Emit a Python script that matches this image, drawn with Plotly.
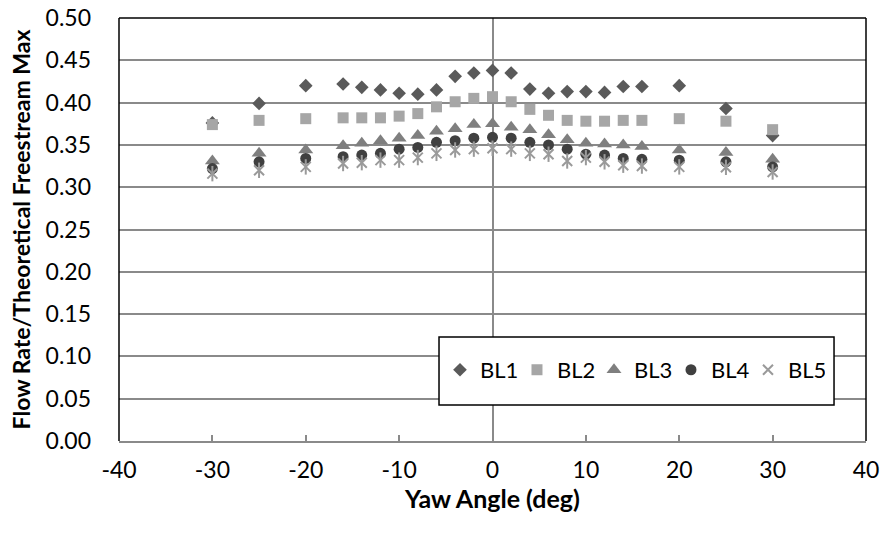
import plotly.graph_objects as go

yaw = [-30, -25, -20, -16, -14, -12, -10, -8, -6, -4, -2, 0, 2, 4, 6, 8, 10, 12, 14, 16, 20, 25, 30]

bl1 = [0.376, 0.399, 0.420, 0.422, 0.418, 0.415, 0.411, 0.410, 0.415, 0.431, 0.435, 0.438,
       0.435, 0.416, 0.411, 0.413, 0.413, 0.412, 0.419, 0.419, 0.420, 0.393, 0.361]
bl2 = [0.374, 0.379, 0.381, 0.382, 0.382, 0.382, 0.384, 0.387, 0.395, 0.401, 0.405, 0.407,
       0.401, 0.392, 0.385, 0.379, 0.378, 0.378, 0.379, 0.379, 0.381, 0.378, 0.368]
bl3 = [0.331, 0.340, 0.344, 0.349, 0.352, 0.355, 0.358, 0.361, 0.366, 0.369, 0.374, 0.375,
       0.371, 0.368, 0.362, 0.356, 0.352, 0.351, 0.350, 0.348, 0.344, 0.341, 0.333]
bl4 = [0.322, 0.330, 0.334, 0.336, 0.338, 0.340, 0.345, 0.347, 0.353, 0.355, 0.358, 0.359,
       0.358, 0.353, 0.350, 0.345, 0.339, 0.338, 0.334, 0.333, 0.332, 0.330, 0.324]
bl5 = [0.316, 0.320, 0.324, 0.328, 0.329, 0.332, 0.332, 0.335, 0.340, 0.344, 0.345, 0.346,
       0.345, 0.340, 0.339, 0.331, 0.335, 0.330, 0.326, 0.325, 0.324, 0.3235, 0.318]

x_ticks = [-40, -30, -20, -10, 0, 10, 20, 30, 40]
y_ticks = [0.00, 0.05, 0.10, 0.15, 0.20, 0.25, 0.30, 0.35, 0.40, 0.45, 0.50]

FONT = "Lato"
GRID = "#8a8a8a"

fig = go.Figure()
fig.add_trace(go.Scatter(x=yaw, y=bl1, mode="markers", name="BL1",
                         marker=dict(symbol="diamond", size=10.5, color="#5a5a5a")))
fig.add_trace(go.Scatter(x=yaw, y=bl2, mode="markers", name="BL2",
                         marker=dict(symbol="square", size=11, color="#a6a6a6")))
fig.add_trace(go.Scatter(x=yaw, y=bl3, mode="markers", name="BL3",
                         marker=dict(symbol="triangle-up", size=13, color="#7f7f7f")))
fig.add_trace(go.Scatter(x=yaw, y=bl4, mode="markers", name="BL4",
                         marker=dict(symbol="circle", size=11, color="#404040")))
fig.add_trace(go.Scatter(x=yaw, y=bl5, mode="markers", name="BL5",
                         marker=dict(symbol="x-thin-open", size=10, color="#9a9a9a",
                                     line=dict(width=2, color="#9a9a9a"))))
fig.add_trace(go.Scatter(x=yaw, y=bl5, mode="markers", name="BL5", showlegend=False,
                         marker=dict(symbol="line-ns-open", size=11, color="#9a9a9a",
                                     line=dict(width=2, color="#9a9a9a"))))

# plot-area border (left, top, right) in black
for x0, y0, x1, y1 in [(0, 0, 0, 1), (0, 1, 1, 1), (1, 0, 1, 1)]:
    fig.add_shape(type="line", xref="x domain", yref="y domain", x0=x0, y0=y0, x1=x1, y1=y1,
                  line=dict(color="black", width=1.5), layer="above")

# legend box
fig.add_shape(type="rect", xref="paper", yref="paper", x0=0.4284, x1=0.9572, y0=0.085, y1=0.2459,
              line=dict(color="black", width=1.5), fillcolor="white", layer="above")

fig.update_layout(
    width=885, height=535,
    margin=dict(l=119, r=19, t=18, b=94),
    paper_bgcolor="white", plot_bgcolor="white",
    font=dict(family=FONT, size=23, color="black"),
    showlegend=True,
    legend=dict(orientation="h", x=0.4297, y=0.168, xanchor="left", yanchor="middle",
                bgcolor="rgba(0,0,0,0)", borderwidth=0, entrywidth=32, entrywidthmode="pixels",
                itemwidth=30, font=dict(family=FONT, size=22, color="black")),
    xaxis=dict(range=[-40, 40], tickvals=x_ticks, ticktext=[str(v) for v in x_ticks],
               showgrid=False, zeroline=True, zerolinecolor=GRID, zerolinewidth=2,
               showline=True, linecolor=GRID, linewidth=2,
               ticks="inside", ticklen=6, tickwidth=2, tickcolor=GRID,
               ticklabelstandoff=7, automargin=False,
               title=dict(text="<b>Yaw Angle (deg)</b>", font=dict(family=FONT, size=25), standoff=8)),
    yaxis=dict(range=[0, 0.5], tickvals=y_ticks, ticktext=[f"{v:.2f}" for v in y_ticks],
               showgrid=True, gridcolor=GRID, gridwidth=1.5, zeroline=False,
               showline=False, ticks="", automargin=False,
               ticklabelstandoff=27,
               title=dict(text="<b>Flow Rate/Theoretical Freestream Max</b>",
                          font=dict(family=FONT, size=23), standoff=8)),
)

fig.write_html("out.html", config={"displayModeBar": False},
               post_script="document.body.style.margin='0';")
